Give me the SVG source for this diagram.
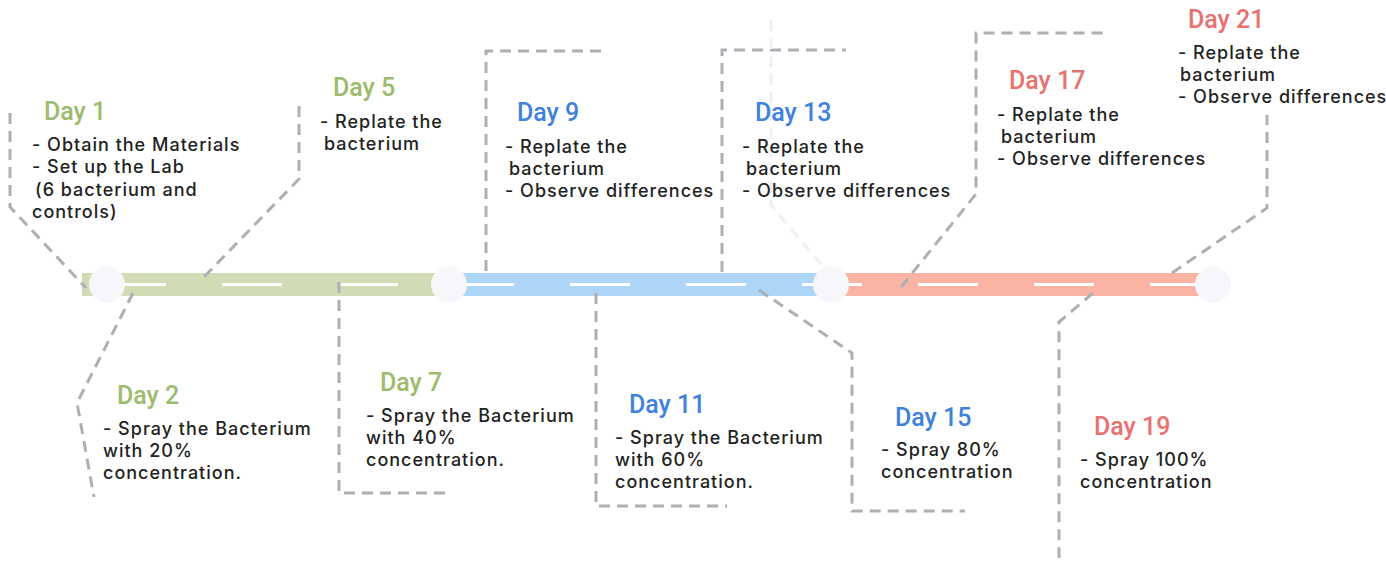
<svg xmlns="http://www.w3.org/2000/svg" width="1386" height="561" viewBox="0 0 1386 561">
<style>
.day{font-family:Roboto,"Noto Sans",sans-serif;font-size:25px;font-weight:500}
.g{fill:#9dbb6c}.b{fill:#3f82db}.r{fill:#e8726f}
.t{font-family:Inter,Roboto,sans-serif;font-size:18px;font-weight:500;letter-spacing:1px;fill:#222222}
.c{fill:none;stroke:#abb0b7;stroke-width:3;stroke-dasharray:11 7}
</style>
<rect width="1386" height="561" fill="#ffffff"/>
<g id="timeline">
<rect x="82" y="273" width="368" height="23" fill="#cfdcb4"/>
<rect x="449" y="273" width="382" height="23" fill="#acd5f7"/>
<rect x="831" y="273" width="382" height="23" fill="#fbb4a4"/>
<line x1="106" y1="284.5" x2="1212" y2="284.5" stroke="#ffffff" stroke-width="3" stroke-dasharray="60 56"/>
</g>
<g id="connectors">
<path class="c" d="M10,113 V207 L86,288"/>
<path class="c" d="M299,106 V179 L204,277"/>
<path class="c" d="M133,293 L77,403 L94,497"/>
<path class="c" d="M339,282 V493 H452"/>
<path class="c" d="M486,271 V51 H608"/>
<path class="c" d="M596,293 V506 H727"/>
<path class="c" d="M722,272 V50 H846"/>
<path d="M771,20 V205 L826,270" fill="none" stroke="#eef0f6" stroke-width="3" stroke-dasharray="11 7"/>
<path class="c" d="M759,290 L852,353 V511 H965"/>
<path class="c" d="M901,287 L976,194 V33 H1108"/>
<path class="c" d="M1093,293 L1059,322 V558"/>
<path class="c" d="M1172,273 L1267,208 V115"/>
</g>
<g id="stops" fill="#f6f6fb">
<circle cx="107" cy="284.5" r="18"/>
<circle cx="449" cy="284.5" r="18"/>
<circle cx="831" cy="284.5" r="18"/>
<circle cx="1213" cy="284.5" r="18"/>
</g>
<g id="day1"><text class="day g" x="44" y="120">Day 1</text>
<text class="t" x="32" y="151">- Obtain the Materials</text>
<text class="t" x="32" y="173">- Set up the Lab</text>
<text class="t" x="35" y="196"> (6 bacterium and</text>
<text class="t" x="32" y="218">controls)</text></g>
<g id="day5"><text class="day g" x="333" y="96">Day 5</text>
<text class="t" x="320" y="128">- Replate the</text>
<text class="t" x="324" y="150">bacterium</text></g>
<g id="day9"><text class="day b" x="517" y="121">Day 9</text>
<text class="t" x="505" y="153">- Replate the</text>
<text class="t" x="509" y="175">bacterium</text>
<text class="t" x="505" y="197">- Observe differences</text></g>
<g id="day13"><text class="day b" x="755" y="121">Day 13</text>
<text class="t" x="742" y="153">- Replate the</text>
<text class="t" x="746" y="175">bacterium</text>
<text class="t" x="742" y="197">- Observe differences</text></g>
<g id="day17"><text class="day r" x="1009" y="89">Day 17</text>
<text class="t" x="997" y="121">- Replate the</text>
<text class="t" x="1001" y="143">bacterium</text>
<text class="t" x="997" y="165">- Observe differences</text></g>
<g id="day21"><text class="day r" x="1188" y="28">Day 21</text>
<text class="t" x="1178" y="59">- Replate the</text>
<text class="t" x="1180" y="81">bacterium</text>
<text class="t" x="1178" y="103">- Observe differences</text></g>
<g id="day2"><text class="day g" x="117" y="404">Day 2</text>
<text class="t" x="103" y="435">- Spray the Bacterium</text>
<text class="t" x="103" y="457">with 20%</text>
<text class="t" x="103" y="479">concentration.</text></g>
<g id="day7"><text class="day g" x="380" y="391">Day 7</text>
<text class="t" x="366" y="422">- Spray the Bacterium</text>
<text class="t" x="366" y="444">with 40%</text>
<text class="t" x="366" y="466">concentration.</text></g>
<g id="day11"><text class="day b" x="629" y="413">Day 11</text>
<text class="t" x="615" y="444">- Spray the Bacterium</text>
<text class="t" x="615" y="466">with 60%</text>
<text class="t" x="615" y="488">concentration.</text></g>
<g id="day15"><text class="day b" x="895" y="426">Day 15</text>
<text class="t" x="881" y="456">- Spray 80%</text>
<text class="t" x="881" y="478">concentration</text></g>
<g id="day19"><text class="day r" x="1094" y="435">Day 19</text>
<text class="t" x="1080" y="466">- Spray 100%</text>
<text class="t" x="1080" y="488">concentration</text></g>
</svg>
